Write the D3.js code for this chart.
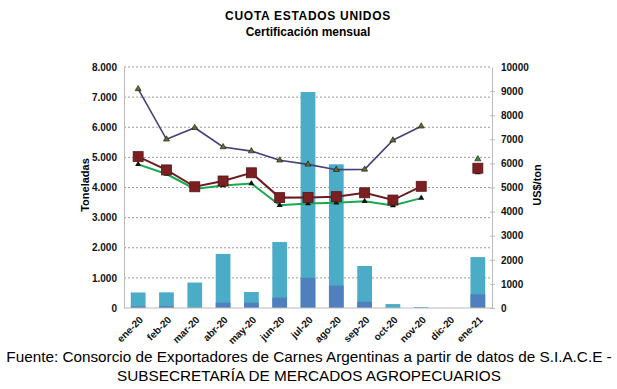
<!DOCTYPE html>
<html>
<head>
<meta charset="utf-8">
<script src="https://cdn.jsdelivr.net/npm/d3@7"></script>
<style>
  body { margin: 0; background: #fff; }
  svg { font-family: "Liberation Sans", Arial, sans-serif; }
  .tick text { font-family: "Liberation Sans", Arial, sans-serif; font-weight: bold; font-size: 10px; fill: #111; }
</style>
</head>
<body>
<div id="chart"></div>
<script>
// Data
const months = ['ene-20', 'feb-20', 'mar-20', 'abr-20', 'may-20', 'jun-20', 'jul-20', 'ago-20', 'sep-20', 'oct-20', 'nov-20', 'dic-20', 'ene-21'];
const totalTons = [515, 520, 845, 1795, 530, 2190, 7170, 4770, 1395, 130, 30, 0, 1690];
const darkTons = [55, 60, 0, 175, 175, 345, 1005, 745, 210, 0, 0, 0, 455];
const priceA = [9090, 7000, 7480, 6680, 6510, 6130, 5960, 5740, 5750, 6960, 7540, null, 6180]; // purple
const priceB = [6280, 5730, 5030, 5270, 5610, 4580, 4590, 4620, 4780, 4480, 5050, null, 5800]; // red squares
const priceC = [5960, 5560, 4940, 5080, 5170, 4260, 4340, 4370, 4430, 4250, 4560, null, 5620]; // green
const leftTicks = [0, 1000, 2000, 3000, 4000, 5000, 6000, 7000, 8000];
const rightTicks = [0, 1000, 2000, 3000, 4000, 5000, 6000, 7000, 8000, 9000, 10000];

const width = 617, height = 389;
const m = { left: 124, right: 492, top: 67, bottom: 308 };

const svg = d3.select('#chart').append('svg')
  .attr('width', width)
  .attr('height', height);

const x = d3.scaleBand().domain(months).range([m.left, m.right]).paddingInner(0.48).paddingOuter(0.24);
const yL = d3.scaleLinear().domain([0, 8000]).range([m.bottom, m.top]);
const yR = d3.scaleLinear().domain([0, 10000]).range([m.bottom, m.top]);
const fmt = d => d === 0 ? '0' : d3.format(',')(d).replace(/,/g, '.');

// Titles
svg.append('text').attr('x', 308).attr('y', 20).attr('text-anchor', 'middle')
  .attr('font-weight', 'bold').attr('font-size', 12).attr('letter-spacing', 0.7).text('CUOTA ESTADOS UNIDOS');
svg.append('text').attr('x', 308).attr('y', 36).attr('text-anchor', 'middle')
  .attr('font-weight', 'bold').attr('font-size', 12).text('Certificación mensual');

// Gridlines
svg.append('g').selectAll('line').data(leftTicks.filter(d => d > 0)).enter().append('line')
  .attr('x1', m.left).attr('x2', m.right)
  .attr('y1', d => yL(d)).attr('y2', d => yL(d))
  .attr('stroke', '#999').attr('stroke-dasharray', '2,2');

// Left axis
const gL = svg.append('g').attr('transform', `translate(${m.left},0)`)
  .call(d3.axisLeft(yL).tickValues(leftTicks).tickFormat(fmt).tickSize(0).tickPadding(7));
gL.select('.domain').attr('stroke', '#bbb');

// Right axis
const gR = svg.append('g').attr('transform', `translate(${m.right},0)`)
  .call(d3.axisRight(yR).tickValues(rightTicks).tickFormat(d3.format('d')).tickSizeInner(4).tickSizeOuter(0).tickPadding(5));
gR.select('.domain').attr('stroke', '#bbb');
gR.selectAll('.tick line').attr('stroke', '#bbb').attr('x1', -2).attr('x2', 3);
gR.selectAll('.tick line').filter(d => d === 10000).remove();

// Bars
svg.append('g').selectAll('rect').data(months).enter().append('rect')
  .attr('x', d => x(d)).attr('width', x.bandwidth())
  .attr('y', (d, i) => yL(totalTons[i]))
  .attr('height', (d, i) => yL(0) - yL(totalTons[i]))
  .attr('fill', '#4aacc6');
svg.append('g').selectAll('rect').data(months).enter().append('rect')
  .attr('x', d => x(d)).attr('width', x.bandwidth())
  .attr('y', (d, i) => yL(darkTons[i]))
  .attr('height', (d, i) => yL(0) - yL(darkTons[i]))
  .attr('fill', '#4f80bd');

// Bottom axis
const gX = svg.append('g').attr('transform', `translate(0,${m.bottom})`)
  .call(d3.axisBottom(x).tickSize(0));
gX.select('.domain').attr('stroke', '#bbb').attr('d', `M${m.left},0H${m.right}`);
gX.selectAll('.tick text')
  .attr('x', 0).attr('y', 0).attr('dy', '0.35em')
  .attr('text-anchor', 'end')
  .attr('transform', 'translate(3,10) rotate(-45)');

// Axis titles
svg.append('text').attr('transform', 'translate(89,185) rotate(-90)')
  .attr('text-anchor', 'middle').attr('font-weight', 'bold').attr('font-size', 11).text('Toneladas');
svg.append('text').attr('transform', 'translate(541,185) rotate(-90)')
  .attr('text-anchor', 'middle').attr('font-weight', 'bold').attr('font-size', 11).text('US$/ton');

// Lines
const cx = d => x(d) + x.bandwidth() / 2;

function drawSeries(vals, color, width) {
  const idx = months.map((d, i) => i).filter(i => vals[i] !== null && i < 11);
  svg.append('path').datum(idx)
    .attr('fill', 'none').attr('stroke', color).attr('stroke-width', width)
    .attr('d', d3.line().x(i => cx(months[i])).y(i => yR(vals[i])));
}

const tri = d3.symbol().type(d3.symbolTriangle).size(16);

drawSeries(priceA, '#47407a', 1.6);
drawSeries(priceC, '#17a94f', 2);
drawSeries(priceB, '#6b1c20', 2);

// Markers
svg.append('g').selectAll('path').data(months.filter((d, i) => priceC[i] !== null)).enter().append('path')
  .attr('d', tri)
  .attr('transform', d => `translate(${cx(d)},${yR(priceC[months.indexOf(d)])})`)
  .attr('fill', '#111');
svg.append('g').selectAll('path').data(months.filter((d, i) => priceA[i] !== null)).enter().append('path')
  .attr('d', tri)
  .attr('transform', d => `translate(${cx(d)},${yR(priceA[months.indexOf(d)])})`)
  .attr('fill', d => d === 'ene-21' ? '#3c8a3c' : '#6b6a2a')
  .attr('stroke', '#111').attr('stroke-width', 0.6);
svg.append('g').selectAll('rect').data(months.filter((d, i) => priceB[i] !== null)).enter().append('rect')
  .attr('x', d => cx(d) - 5).attr('y', d => yR(priceB[months.indexOf(d)]) - 5)
  .attr('width', 10).attr('height', 10)
  .attr('fill', '#7a1f22').attr('stroke', '#5a1518').attr('stroke-width', 0.8);

// Footer
svg.append('text').attr('x', 309).attr('y', 362).attr('text-anchor', 'middle')
  .attr('font-size', 15.3).text('Fuente: Consorcio de Exportadores de Carnes Argentinas a partir de datos de S.I.A.C.E -');
svg.append('text').attr('x', 309).attr('y', 381).attr('text-anchor', 'middle')
  .attr('font-size', 15.3).text('SUBSECRETARÍA DE MERCADOS AGROPECUARIOS');
</script>
</body>
</html>
